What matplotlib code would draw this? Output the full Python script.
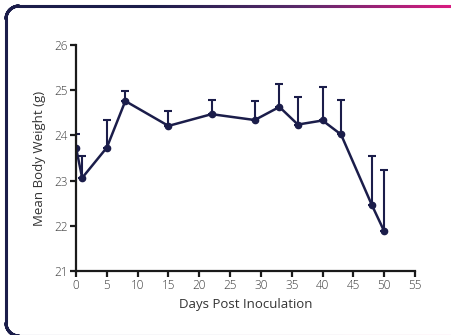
import numpy as np
import matplotlib.pyplot as plt
from matplotlib.collections import LineCollection
from matplotlib.colors import LinearSegmentedColormap

# values
days = [0, 1, 5, 8, 15, 22, 29, 33, 36, 40, 43, 48, 50]
weight = [23.73, 23.06, 23.73, 24.76, 24.21, 24.47, 24.34, 24.63, 24.24, 24.33, 24.02, 22.46, 21.88]
err_up = [0.30, 0.48, 0.62, 0.23, 0.33, 0.32, 0.42, 0.50, 0.61, 0.75, 0.77, 1.09, 1.35]

navy = '#1b1d4a'
W, H = 451, 335

plt.rcParams['font.family'] = ['Open Sans', 'DejaVu Sans']

fig = plt.figure(figsize=(W / 100, H / 100), dpi=100)

# rounded frame with a navy -> magenta gradient stroke
x0, y0, x1, y1, r = 6, 6, 470, 336, 13
t = np.linspace(0, np.pi / 2, 40)
pts = []
pts += [(x0 + r - r * np.cos(a), y0 + r - r * np.sin(a)) for a in t]
pts += [(x1 - r + r * np.sin(a), y0 + r - r * np.cos(a)) for a in t]
pts += [(x1 - r + r * np.cos(a), y1 - r + r * np.sin(a)) for a in t]
pts += [(x0 + r - r * np.sin(a), y1 - r + r * np.cos(a)) for a in t]
pts.append(pts[0])
pts = np.array(pts)
dense = []
for p, q in zip(pts[:-1], pts[1:]):
    n = max(2, int(np.hypot(*(q - p))))
    for s in np.linspace(0, 1, n, endpoint=False):
        dense.append(p + (q - p) * s)
dense.append(pts[-1])
dense = np.array(dense)
fx = dense[:, 0] / W
fy = 1 - dense[:, 1] / H
segs = np.stack([np.column_stack([fx[:-1], fy[:-1]]), np.column_stack([fx[1:], fy[1:]])], axis=1)
cmap = LinearSegmentedColormap.from_list('frame', [navy, navy, '#5a2a6a', '#d81b80'])
lc = LineCollection(segs, cmap=cmap, linewidths=2.2, transform=fig.transFigure,
                    capstyle='round', antialiased=True)
lc.set_array((fx[:-1] + fx[1:]) / 2)
lc.set_clim(0.0, 1.0)
fig.add_artist(lc)

ax = fig.add_axes([76 / W, 1 - 271 / H, (415 - 76) / W, (271 - 45) / H])

ax.errorbar(days, weight, yerr=[np.zeros(len(err_up)), err_up], color=navy,
            lw=1.8, marker='o', ms=4.5, capsize=3, capthick=1.5, elinewidth=1.5)

ax.set_xlim(0, 55)
ax.set_ylim(21, 26)
ax.set_xticks(range(0, 56, 5))
ax.set_yticks(range(21, 27))
for s in ['top', 'right']:
    ax.spines[s].set_visible(False)
for s in ['left', 'bottom']:
    ax.spines[s].set_linewidth(1.6)
    ax.spines[s].set_color('#1a1a1a')
ax.tick_params(direction='out', length=4, width=1.6, colors='#1a1a1a',
               labelcolor='#3a3a3a', labelsize=8.5, pad=2)
ax.set_xlabel('Days Post Inoculation', fontsize=9.5, color='#333333', labelpad=4)
ax.set_ylabel('Mean Body Weight (g)', fontsize=9.5, color='#333333', labelpad=6)
for lab in ax.get_xticklabels() + ax.get_yticklabels():
    lab.set_fontweight('light')

fig.savefig('out.png', dpi=100)
